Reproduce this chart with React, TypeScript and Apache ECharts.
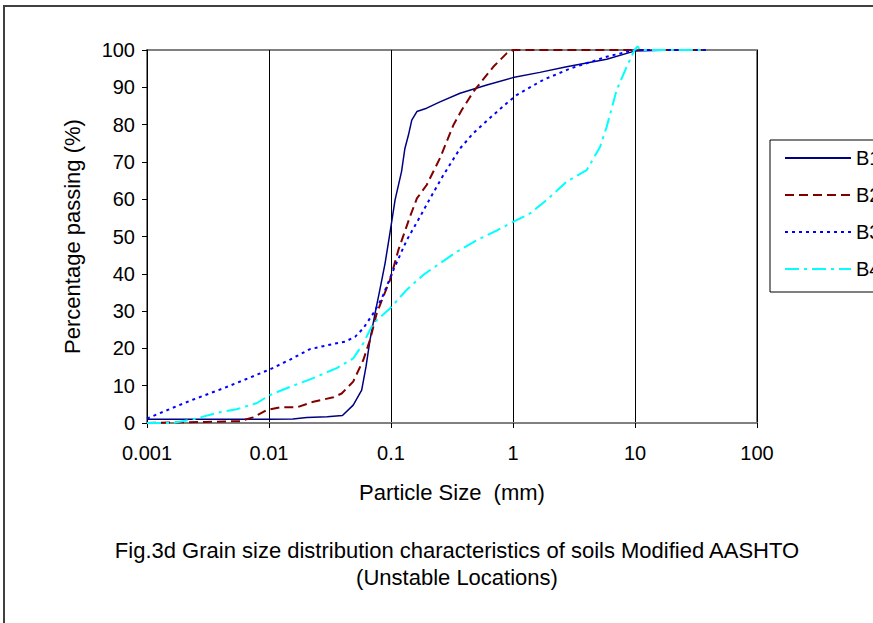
import React, { useEffect, useRef } from "react";
import * as echarts from "echarts";

const seriesNames = ["B1", "B2", "B3", "B4"];
const xTicks = [0.001, 0.01, 0.1, 1, 10, 100];

const b1Size = [0.001, 0.003, 0.01, 0.0157, 0.0204, 0.03, 0.04, 0.049, 0.0575, 0.0624, 0.0673, 0.074, 0.081, 0.0894, 0.098, 0.108, 0.122, 0.13, 0.139, 0.148, 0.163, 0.196, 0.252, 0.368, 0.61, 1.0, 1.66, 2.75, 5.86, 9.9, 20, 38];
const b1Pass = [1, 1, 1, 1.1, 1.5, 1.7, 2, 4.8, 8.8, 15.1, 22.3, 29.4, 35.7, 42.8, 50.9, 59.8, 67.4, 73.6, 77.2, 81.2, 83.5, 84.4, 86.1, 88.4, 90.6, 92.6, 94, 95.5, 97.5, 99.7, 100, 100];

const b2Size = [0.001, 0.003, 0.0058, 0.0074, 0.0096, 0.0123, 0.0169, 0.0231, 0.0337, 0.0394, 0.049, 0.0593, 0.0673, 0.0764, 0.0865, 0.098, 0.115, 0.143, 0.163, 0.196, 0.252, 0.325, 0.38, 0.473, 0.69, 0.887, 1.0, 3, 10, 38];
const b2Pass = [0, 0.3, 0.5, 1.5, 3.5, 4.2, 4.2, 5.7, 6.9, 7.9, 11.1, 16.9, 22.3, 29.4, 33.9, 38.3, 46.4, 55.3, 60.2, 63.8, 71, 79.9, 83.9, 88.8, 95.5, 99.1, 100, 100, 100, 100];

const b3Size = [0.001, 0.00175, 0.0024, 0.00422, 0.007, 0.0102, 0.0149, 0.0217, 0.0359, 0.042, 0.0507, 0.0593, 0.0716, 0.084, 0.1045, 0.1345, 0.173, 0.209, 0.269, 0.368, 0.473, 0.69, 0.887, 1.07, 1.77, 2.93, 5.86, 10, 20, 38];
const b3Pass = [1.2, 4.5, 6.3, 9.3, 12.2, 14.4, 17, 19.8, 21.4, 21.8, 23.1, 25.4, 29.4, 33.4, 41, 49, 55.3, 60.2, 66.5, 73.6, 77.7, 82.6, 85.7, 87.9, 92, 95, 98.2, 100, 100, 100];

const b4Size = [0.001, 0.00164, 0.0024, 0.00396, 0.00543, 0.0079, 0.0102, 0.0149, 0.0217, 0.0359, 0.049, 0.0593, 0.0716, 0.098, 0.1345, 0.184, 0.252, 0.346, 0.504, 0.734, 1.0, 1.38, 1.89, 2.75, 4.02, 5.17, 5.86, 7.08, 8.55, 9.9, 10.5, 11, 20, 38];
const b4Pass = [0, 0, 1, 2.9, 3.7, 5.3, 7.5, 9.7, 11.7, 14.7, 17.3, 21.4, 26.7, 30.7, 35.7, 39.7, 42.8, 45.9, 49, 51.6, 53.9, 56.2, 59.8, 64.7, 67.8, 74, 79.4, 89.3, 95.5, 100, 101, 100, 100, 100];

const pair = (s: number[], p: number[]) => s.map((x, i) => [x, p[i]]);

export default function App() {
  const ref = useRef<HTMLDivElement>(null);
  useEffect(() => {
    const chart = echarts.init(ref.current!, null, { renderer: "svg" });
    const font = "'Liberation Sans', Arial, sans-serif";
    const fmtX = (v: number) => {
      let best = xTicks[0];
      xTicks.forEach((t) => {
        if (Math.abs(Math.log10(t) - Math.log10(v)) < Math.abs(Math.log10(best) - Math.log10(v))) best = t;
      });
      return String(best);
    };
    chart.setOption({
      animation: false,
      textStyle: { fontFamily: font },
      grid: { left: 147, right: 116, top: 50, bottom: 200, show: true, borderColor: "#808080", borderWidth: 2 },
      xAxis: {
        type: "log",
        logBase: 10,
        min: 0.001,
        max: 100,
        name: "Particle Size  (mm)",
        nameLocation: "middle",
        nameGap: 58,
        nameTextStyle: { fontSize: 22, color: "#000", fontFamily: font },
        axisLine: { show: true, lineStyle: { color: "#808080", width: 2 } },
        axisTick: { show: true, inside: false, length: 5, lineStyle: { color: "#000" } },
        axisLabel: { fontSize: 20, color: "#000", margin: 20, fontFamily: font, formatter: fmtX },
        splitLine: { show: true, lineStyle: { color: "#000", width: 1 } },
        minorTick: { show: false },
        minorSplitLine: { show: false },
      },
      yAxis: {
        type: "value",
        min: 0,
        max: 100,
        interval: 10,
        name: "Percentage passing (%)",
        nameLocation: "middle",
        nameGap: 64,
        nameRotate: 90,
        nameTextStyle: { fontSize: 22, color: "#000", fontFamily: font },
        axisLine: { show: true, lineStyle: { color: "#000", width: 1 } },
        axisTick: { show: true, inside: false, length: 5, lineStyle: { color: "#000" } },
        axisLabel: { fontSize: 20, color: "#000", margin: 12, fontFamily: font },
        splitLine: { show: false },
      },
      legend: {
        orient: "vertical",
        left: 770,
        top: 140,
        itemWidth: 66,
        itemHeight: 14,
        itemGap: 17,
        padding: [8, 30, 13, 14],
        borderColor: "#000",
        borderWidth: 1,
        itemStyle: { opacity: 0 },
        textStyle: { fontSize: 20, lineHeight: 20, color: "#000", fontFamily: font },
        data: seriesNames,
      },
      graphic: [
        {
          type: "rect",
          shape: { x: 4, y: 6, width: 1000, height: 1000 },
          style: { fill: "none", stroke: "#404040", lineWidth: 2 },
          silent: true,
        },
        {
          type: "text",
          x: 457,
          y: 550,
          style: { text: "Fig.3d Grain size distribution characteristics of soils Modified AASHTO", fontSize: 22, fontFamily: font, fill: "#000", textAlign: "center", textVerticalAlign: "middle" },
        },
        {
          type: "text",
          x: 457,
          y: 577,
          style: { text: "(Unstable Locations)", fontSize: 22, fontFamily: font, fill: "#000", textAlign: "center", textVerticalAlign: "middle" },
        },
      ],
      series: [
        {
          name: "B1",
          type: "line",
          data: pair(b1Size, b1Pass),
          showSymbol: false,
          symbol: "none",
          lineStyle: { color: "#000080", width: 1.5, type: "solid" },
          itemStyle: { color: "#000080" },
        },
        {
          name: "B2",
          type: "line",
          data: pair(b2Size, b2Pass),
          showSymbol: false,
          symbol: "none",
          lineStyle: { color: "#800000", width: 2, type: [9, 5] },
          itemStyle: { color: "#800000" },
        },
        {
          name: "B3",
          type: "line",
          data: pair(b3Size, b3Pass),
          showSymbol: false,
          symbol: "none",
          lineStyle: { color: "#0000ff", width: 2, type: [3, 4] },
          itemStyle: { color: "#0000ff" },
        },
        {
          name: "B4",
          type: "line",
          data: pair(b4Size, b4Pass),
          showSymbol: false,
          symbol: "none",
          clip: false,
          lineStyle: { color: "#00ffff", width: 2, type: [14, 5, 3, 5] },
          itemStyle: { color: "#00ffff" },
        },
      ],
    });
    return () => chart.dispose();
  }, []);
  return <div ref={ref} style={{ position: "absolute", left: 0, top: 0, width: 873, height: 623 }} />;
}
